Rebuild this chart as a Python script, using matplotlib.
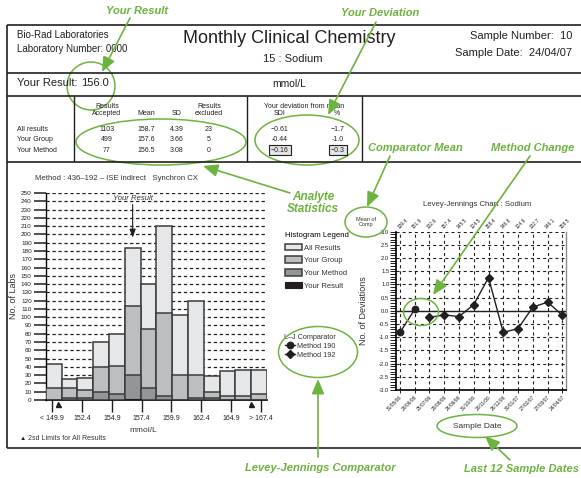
import matplotlib
matplotlib.use('Agg')
import matplotlib.pyplot as plt
from matplotlib.patches import Ellipse
import numpy as np

plt.rcParams['font.family'] = ['Liberation Sans', 'DejaVu Sans']
plt.rcParams['lines.scale_dashes'] = False

# ---------------- data ----------------
stat_rows = ['All results', 'Your Group', 'Your Method']
stat_accepted = ['1103', '499', '77']
stat_mean = ['158.7', '157.6', '156.5']
stat_sd = ['4.39', '3.66', '3.08']
stat_excluded = ['23', '5', '0']
stat_sdi = ['\u22120.61', '-0.44', '\u22120.16']
stat_pct = ['\u22121.7', '-1.0', '\u22120.3']

hist_all = [44, 25, 26, 70, 80, 183, 140, 210, 103, 120, 29, 35, 36, 36]
hist_group = [14, 15, 12, 40, 41, 114, 86, 105, 30, 30, 10, 5, 5, 7]
hist_method = [0, 3, 2, 10, 7, 30, 15, 5, 0, 3, 2, 0, 0, 0]
hist_result = [0, 0, 0, 0, 0, 1, 0, 0, 0, 0, 0, 0, 0, 0]
bin_start = 149.34
bin_width = 1.328
your_result = 156.0
hist_tick_values = [149.9, 152.4, 154.9, 157.4, 159.9, 162.4, 164.9, 167.4]
hist_tick_labels = ['< 149.9', '152.4', '154.9', '157.4', '159.9', '162.4', '164.9', '> 167.4']
sd2_limits = [150.4, 166.6]

lj_dates = ['31/05/06', '28/06/06', '25/07/06', '29/08/06', '26/09/06', '31/10/06',
            '28/11/06', '26/12/06', '30/01/07', '27/02/07', '27/03/07', '24/04/07']
lj_comp_means = ['139.4', '151.9', '132.6', '157.4', '145.5', '124.5',
                 '158.4', '146.8', '124.9', '132.7', '146.1', '158.5']
lj_sdi = [-0.82, 0.06, -0.25, -0.15, -0.22, 0.24, 1.26, -0.82, -0.67, 0.14, 0.33, -0.16]
lj_method = [190, 190, 192, 192, 192, 192, 192, 192, 192, 192, 192, 192]

# ---------------- figure ----------------
W, H = 581, 478
fig = plt.figure(figsize=(W / 100, H / 100), dpi=100)
fig.patch.set_facecolor('white')

def rect(x0, y0, x1, y1):
    return [x0 / W, 1 - y1 / H, (x1 - x0) / W, (y1 - y0) / H]

G = '#6db33f'
K = '#231f20'

# ---------------- histogram ----------------
ax = fig.add_axes(rect(45.7, 193, 267, 400))
nb = len(hist_all)
lefts = [bin_start + i * bin_width for i in range(nb)]
ax.set_xlim(bin_start, bin_start + nb * bin_width)
ax.set_ylim(0, 250)
for yv in range(10, 251, 10):
    ax.axhline(yv, color=K, lw=0.9, ls=(0, (2.4, 1.9)), zorder=0)
ec = '#3c3c3c'
b1 = ax.bar(lefts, hist_all, width=bin_width, align='edge', color='#e6e7e8', edgecolor=ec, lw=1.1, zorder=2, label='All Results')
b2 = ax.bar(lefts, hist_group, width=bin_width, align='edge', color='#bcbec0', edgecolor=ec, lw=1.1, zorder=3, label='Your Group')
b3 = ax.bar(lefts, hist_method, width=bin_width, align='edge', color='#939598', edgecolor=ec, lw=1.1, zorder=4, label='Your Method')
b4 = ax.bar(lefts, hist_result, width=bin_width, align='edge', color=K, edgecolor=K, lw=0.8, zorder=5, label='Your Result')
ax.set_yticks(range(0, 251, 10))
ax.tick_params(axis='y', direction='out', length=9, width=1.1, pad=1, labelsize=4.6, colors=K)
ax.set_xticks(hist_tick_values, labels=hist_tick_labels)
ax.tick_params(axis='x', direction='out', length=8.5, width=1, pad=2.5, labelsize=5, colors=K)
for s in ['top', 'right']:
    ax.spines[s].set_visible(False)
ax.spines['left'].set_linewidth(1.0)
ax.spines['bottom'].set_linewidth(1.2)
ax.plot(sd2_limits, [-4.8, -4.8], ls='none', marker='^', ms=3.6, color=K, clip_on=False, zorder=6)
# arrow to the centre of the bin holding your result
rb = int((your_result - bin_start) // bin_width)
rx = bin_start + (rb + 0.5) * bin_width
ax.annotate('', xy=(rx, 196), xytext=(rx, 236),
            arrowprops=dict(arrowstyle='-|>,head_length=0.5,head_width=0.18', color=K, lw=0.8,
                            shrinkA=0, shrinkB=0, mutation_scale=10), zorder=7)
ax.text(rx, 243, 'Your Result', ha='center', va='center', fontsize=5.6, style='italic', color='#333333')
leg = ax.legend(handles=[b1, b2, b3, b4], title='Histogram Legend', loc='upper left',
                bbox_to_anchor=(285 / W, 1 - 232 / H), bbox_transform=fig.transFigure,
                frameon=False, fontsize=5.5, title_fontsize=5.6, handlelength=2.2, handleheight=0.95,
                handletextpad=0.3, labelspacing=0.62, borderpad=0, borderaxespad=0, alignment='left')
for t in leg.get_texts():
    t.set_color('#333333')

# ---------------- Levey-Jennings ----------------
ax2 = fig.add_axes(rect(396, 231.7, 566, 390))
xs = np.arange(len(lj_sdi))
ax2.set_xlim(-0.27, 11.25)
ax2.set_ylim(-3, 3)
m190 = [i for i in xs if lj_method[i] == 190]
m192 = [i for i in xs if lj_method[i] == 192]
ax2.plot(m190, [lj_sdi[i] for i in m190], color=K, lw=1.0, marker='o', ms=4.6, label='Method 190', zorder=5)
ax2.plot(m192, [lj_sdi[i] for i in m192], color=K, lw=1.0, marker='D', ms=4.0, label='Method 192', zorder=5)
ax2.axhline(0, color=K, lw=1.0, zorder=3)
ax2.set_yticks(np.arange(-3, 3.01, 0.5))
ax2.set_yticks(np.arange(-3, 3.01, 0.1), minor=True)
ax2.yaxis.set_major_formatter(matplotlib.ticker.FormatStrFormatter('%.1f'))
ax2.tick_params(axis='y', which='both', direction='out', length=4.2, width=0.7, pad=0.6, labelsize=4.2, colors=K)
ax2.set_xticks(xs, labels=lj_dates, rotation=45, ha='right', va='top', rotation_mode='anchor')
ax2.tick_params(axis='x', direction='out', length=2, width=0.7, pad=1.5, labelsize=3.5, colors=K)
ax2.grid(True, which='major', color=K, lw=0.8, ls=(0, (2.2, 2.2)), zorder=1)
ax2.spines['top'].set_visible(False)
ax2.spines['right'].set_color('#8a8a8a')
ax2.spines['right'].set_linewidth(1.0)
ax2.spines['left'].set_linewidth(1.2)
ax2.spines['bottom'].set_linewidth(1.2)
sec = ax2.secondary_xaxis('top')
sec.set_xticks(xs, labels=lj_comp_means, rotation=45, ha='left', va='bottom', rotation_mode='anchor')
sec.tick_params(length=0, pad=1.5, labelsize=3.5, colors=K)
sec.spines['top'].set_visible(False)
leg2 = ax2.legend(title='L\u2013J Comparator', loc='upper left',
                  bbox_to_anchor=(284 / W, 1 - 334 / H), bbox_transform=fig.transFigure,
                  frameon=False, fontsize=5.2, title_fontsize=5.2, handlelength=1.4,
                  handletextpad=0.2, labelspacing=0.25, borderpad=0, borderaxespad=0)
for t in leg2.get_texts():
    t.set_color('#333333')
leg2.get_title().set_color('#333333')

# ---------------- overlay ----------------
ov = fig.add_axes([0, 0, 1, 1], zorder=10)
ov.set_xlim(0, W)
ov.set_ylim(H, 0)
ov.axis('off')
ov.patch.set_alpha(0)

def hl(y, x0=7, x1=581, lw=1.2):
    ov.plot([x0, x1], [y, y], color=K, lw=lw, solid_capstyle='butt')

def vl(x, y0, y1, lw=1.2):
    ov.plot([x, x], [y0, y1], color=K, lw=lw, solid_capstyle='butt')

hl(25); hl(73); hl(96); hl(162); hl(448)
vl(7, 25, 448)
vl(74, 96, 162, 1.0); vl(247, 96, 162, 1.0); vl(362, 96, 162, 1.0)

T = '#231f20'
ov.text(17, 35, 'Bio-Rad Laboratories', fontsize=7, va='center', color=T)
ov.text(17, 49, 'Laboratory Number: 0000', fontsize=7, va='center', color=T)
ov.text(289, 38, 'Monthly Clinical Chemistry', fontsize=13, ha='center', va='center', color=T)
ov.text(293, 59, '15 : Sodium', fontsize=8, ha='center', va='center', color=T)
ov.text(572, 36, 'Sample Number:  10', fontsize=8, ha='right', va='center', color=T)
ov.text(572, 53, 'Sample Date:  24/04/07', fontsize=8, ha='right', va='center', color=T)
ov.text(17, 83, 'Your Result:', fontsize=8, va='center', color=T)
ov.text(81, 83, '156.0', fontsize=8, va='center', color=T)
ov.text(289, 84, 'mmol/L', fontsize=7.5, ha='center', va='center', color=T)

hs = 5
ov.text(107, 110, 'Results\nAccepted', fontsize=hs, ha='center', va='center', linespacing=1.0, color=T)
ov.text(146, 113, 'Mean', fontsize=hs, ha='center', va='center', color=T)
ov.text(177, 113, 'SD', fontsize=hs, ha='center', va='center', color=T)
ov.text(209, 110, 'Results\nexcluded', fontsize=hs, ha='center', va='center', linespacing=1.0, color=T)
ov.text(304, 106, 'Your deviation from mean', fontsize=hs, ha='center', va='center', color=T)
ov.text(280, 113, 'SDI', fontsize=hs, ha='center', va='center', color=T)
ov.text(337, 113, '%', fontsize=hs, ha='center', va='center', color=T)
row_y = [129.5, 139.5, 150]
for i, yv in enumerate(row_y):
    ov.text(17, yv, stat_rows[i], fontsize=hs, va='center', color=T)
    ov.text(107, yv, stat_accepted[i], fontsize=hs, ha='center', va='center', color=T)
    ov.text(146, yv, stat_mean[i], fontsize=hs, ha='center', va='center', color=T)
    ov.text(177, yv, stat_sd[i], fontsize=hs, ha='center', va='center', color=T)
    ov.text(209, yv, stat_excluded[i], fontsize=hs, ha='center', va='center', color=T)
    box = dict(boxstyle='square,pad=0.25', fc='#e4e4e4', ec=K, lw=0.8) if i == 2 else None
    ov.text(280, yv, stat_sdi[i], fontsize=hs, ha='center', va='center', color=T, bbox=box)
    ov.text(338, yv, stat_pct[i], fontsize=hs, ha='center', va='center', color=T, bbox=box)

ov.text(35, 179, 'Method : 436\u2013192 \u2013 ISE indirect   Synchron CX', fontsize=5.6, va='center', color='#333333')
ov.text(143, 430, 'mmol/L', fontsize=6, ha='center', va='center', color='#333333')
ov.text(14, 296, 'No. of Labs', fontsize=6.5, rotation=90, ha='center', va='center', color='#333333')
ov.text(20, 439, '\u25b2', fontsize=4.5, va='center', color=K)
ov.text(28, 439, '2sd Limits for All Results', fontsize=5, va='center', color='#333333')

ov.text(477, 205, 'Levey-Jennings Chart : Sodium', fontsize=5.6, ha='center', va='center', color='#333333')
ov.text(363, 311, 'No. of Deviations', fontsize=6.5, rotation=90, ha='center', va='center', color='#333333')
ov.text(366, 222, 'Mean of\nComp', fontsize=4, ha='center', va='center', linespacing=1.2, color='#333333')
ov.text(477, 426, 'Sample Date', fontsize=6, ha='center', va='center', color='#333333')

# green annotations
def ell(cx, cy, w, h):
    ov.add_patch(Ellipse((cx, cy), w, h, fill=False, ec=G, lw=1.1))

def arr(tail, head):
    ov.annotate('', xy=head, xytext=tail,
                arrowprops=dict(arrowstyle='-|>,head_length=0.9,head_width=0.38', color=G, lw=1.2,
                                shrinkA=0, shrinkB=0, mutation_scale=10))

def glab(x, y, s, size=8):
    ov.text(x, y, s, fontsize=size, ha='center', va='center', color=G, weight='bold', style='italic', linespacing=1.0)

ell(91, 86, 48, 48)
ell(161, 142, 170, 46)
ell(307, 140, 104, 50)
ell(366, 222, 42, 30)
ell(421, 312, 35, 27)
ell(318, 352, 79, 51)
ell(477, 426, 80, 23)

arr((130, 18), (102, 72))
arr((376, 22), (328, 115))
arr((290, 193), (203, 166))
arr((390, 156), (367, 207))
arr((530, 156), (433, 295))
arr((318, 457), (318, 379))
arr((510, 460), (485, 436))

glab(137, 11, 'Your Result')
glab(380, 13, 'Your Deviation')
glab(313, 203, 'Analyte\nStatistics', 8.5)
glab(415, 148, 'Comparator Mean')
glab(533, 148, 'Method Change')
glab(320, 468, 'Levey-Jennings Comparator')
glab(521, 469, 'Last 12 Sample Dates')

fig.savefig('out.png', dpi=100)
